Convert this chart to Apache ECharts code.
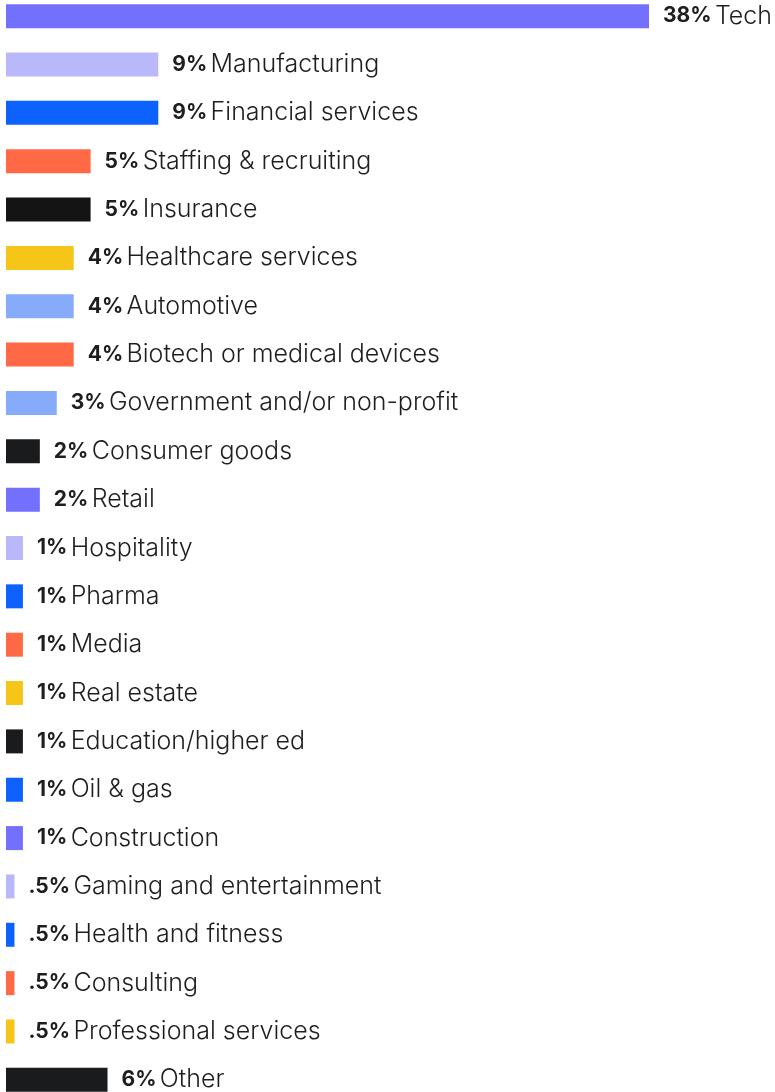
<!DOCTYPE html>
<html>
<head>
<meta charset="utf-8">
<script src="https://cdn.jsdelivr.net/npm/echarts@6/dist/echarts.min.js"></script>
<style>
  html, body { margin: 0; padding: 0; background: #ffffff; }
  #chart { width: 775px; height: 1092px; }
</style>
</head>
<body>
<div id="chart"></div>
<script>
// Industries represented, share of respondents (%)
const industries = [
  'Tech', 'Manufacturing', 'Financial services', 'Staffing & recruiting', 'Insurance',
  'Healthcare services', 'Automotive', 'Biotech or medical devices',
  'Government and/or non-profit', 'Consumer goods', 'Retail', 'Hospitality', 'Pharma',
  'Media', 'Real estate', 'Education/higher ed', 'Oil & gas', 'Construction',
  'Gaming and entertainment', 'Health and fitness', 'Consulting', 'Professional services',
  'Other'
];
const shares = [38, 9, 9, 5, 5, 4, 4, 4, 3, 2, 2, 1, 1, 1, 1, 1, 1, 1, 0.5, 0.5, 0.5, 0.5, 6];
const barColors = [
  '#7470fe', '#b9b8fa', '#0d62fd', '#ff6945', '#141414', '#f5c517', '#86abfa', '#ff6945',
  '#86abfa', '#1a1b1d', '#7470fe', '#b9b8fa', '#0d62fd', '#ff6945', '#f5c517', '#1a1b1d',
  '#0d62fd', '#7470fe', '#b9b8fa', '#0d62fd', '#ff6945', '#f5c517', '#1a1b1d'
];

const fmtShare = v => String(v).replace(/^0\./, '.') + '%';

const chart = echarts.init(document.getElementById('chart'), null, { renderer: 'canvas' });
chart.setOption({
  animation: false,
  backgroundColor: '#ffffff',
  grid: { left: 6, right: 126, top: -8, height: 1112, containLabel: false, outerBoundsMode: 'none' },
  xAxis: { type: 'value', min: 0, max: 38, show: false },
  yAxis: {
    type: 'category', data: industries, inverse: true, show: false,
    axisTick: { show: false }, axisLine: { show: false }, axisLabel: { show: false }
  },
  series: [{
    type: 'bar',
    barWidth: 24,
    data: shares.map((v, i) => ({ value: v, itemStyle: { color: barColors[i] } })),
    label: {
      show: true,
      position: 'right',
      distance: 14,
      formatter: p => '{b|' + fmtShare(p.value) + '} {n|' + p.name + '}',
      rich: {
        b: { fontFamily: 'Inter', fontWeight: 700, fontSize: 21, color: '#1e1e20' },
        n: { fontFamily: 'Inter', fontWeight: 300, fontSize: 25, color: '#1e1e20' }
      }
    }
  }]
});
</script>
</body>
</html>
